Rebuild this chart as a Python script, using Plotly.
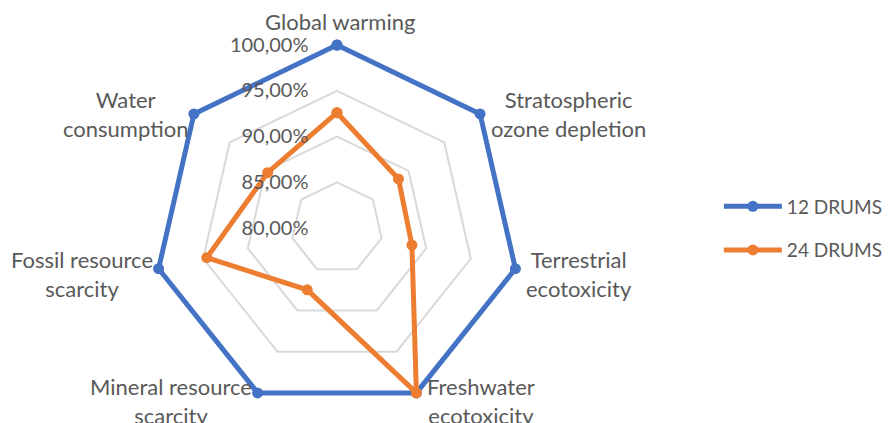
import math
import plotly.graph_objects as go

categories = ["Global warming", "Stratospheric<br>ozone depletion", "Terrestrial<br>ecotoxicity",
              "Freshwater<br>ecotoxicity", "Mineral resource<br>scarcity", "Fossil resource<br>scarcity",
              "Water<br>consumption"]
drums12 = [1.0, 1.0, 1.0, 1.0, 1.0, 1.0, 1.0]
drums24 = [0.926, 0.886, 0.884, 1.0, 0.875, 0.946, 0.897]
tick_vals = [0.80, 0.85, 0.90, 0.95, 1.00]

BLUE = "#4472C4"
ORANGE = "#ED7D31"
TXT = "#595959"
FONT = "Lato"

fig = go.Figure()
for name, vals, col in [("12 DRUMS", drums12, BLUE), ("24 DRUMS", drums24, ORANGE)]:
    fig.add_trace(go.Scatterpolar(
        r=vals + vals[:1], theta=categories + categories[:1], name=name,
        legendgroup=name,
        mode="lines+markers", line=dict(color=col, width=5),
        marker=dict(color=col, size=11), cliponaxis=False))

rmin, rmax = 0.8, 1.01
cx, cy, R100 = 337, 228, 183
R = R100 * (rmax - rmin) / (1.0 - rmin)
W, H = 893, 423

# category labels placed just outside each vertex of the outer (100%) ring
annotations = []
n = len(categories)
for i, lab in enumerate(categories):
    th = math.radians(90 - i * 360 / n)
    vx = cx + R100 * math.cos(th)
    vy = cy - R100 * math.sin(th)
    c, s = math.cos(th), math.sin(th)
    if c > 0.1:
        xanchor, xshift = "left", 9
    elif c < -0.1:
        xanchor, xshift = "right", -4
    else:
        xanchor, xshift = "center", 3
    if s > 0.9:
        yanchor, yshift = "bottom", 8
    elif s > 0.3:
        yanchor, yshift = "middle", 0
    elif s > -0.5:
        yanchor, yshift = "middle", -5
    else:
        yanchor, yshift = "middle", -8
    annotations.append(dict(
        text=lab, x=vx / W, y=1 - vy / H, xref="paper", yref="paper",
        xanchor=xanchor, yanchor=yanchor, xshift=xshift, yshift=yshift,
        align="center", showarrow=False,
        font=dict(family=FONT, size=22, color=TXT)))

fig.update_layout(
    width=W, height=H, margin=dict(l=0, r=0, t=0, b=0),
    paper_bgcolor="white", plot_bgcolor="white",
    separators=", ",
    font=dict(family=FONT, size=20, color=TXT),
    annotations=annotations,
    polar=dict(
        domain=dict(x=[(cx - R) / W, (cx + R) / W], y=[(H - cy - R) / H, (H - cy + R) / H]),
        gridshape="linear", bgcolor="white",
        radialaxis=dict(range=[rmin, rmax], tickvals=tick_vals, tickformat=".2%",
                        angle=90, tickangle=90, side="counterclockwise",
                        showline=False, ticks="outside", ticklen=21,
                        tickcolor="rgba(0,0,0,0)",
                        gridcolor="#D9D9D9", gridwidth=1.5,
                        tickfont=dict(family=FONT, size=20, color=TXT)),
        angularaxis=dict(direction="clockwise", rotation=90, showgrid=False,
                         showline=False, ticks="", showticklabels=False),
    ),
    legend=dict(x=0.805, y=0.46, xanchor="left", yanchor="middle", tracegroupgap=16,
                itemwidth=58,
                font=dict(family=FONT, size=19, color=TXT), bgcolor="rgba(0,0,0,0)"),
)

fig.write_html("out.html")
